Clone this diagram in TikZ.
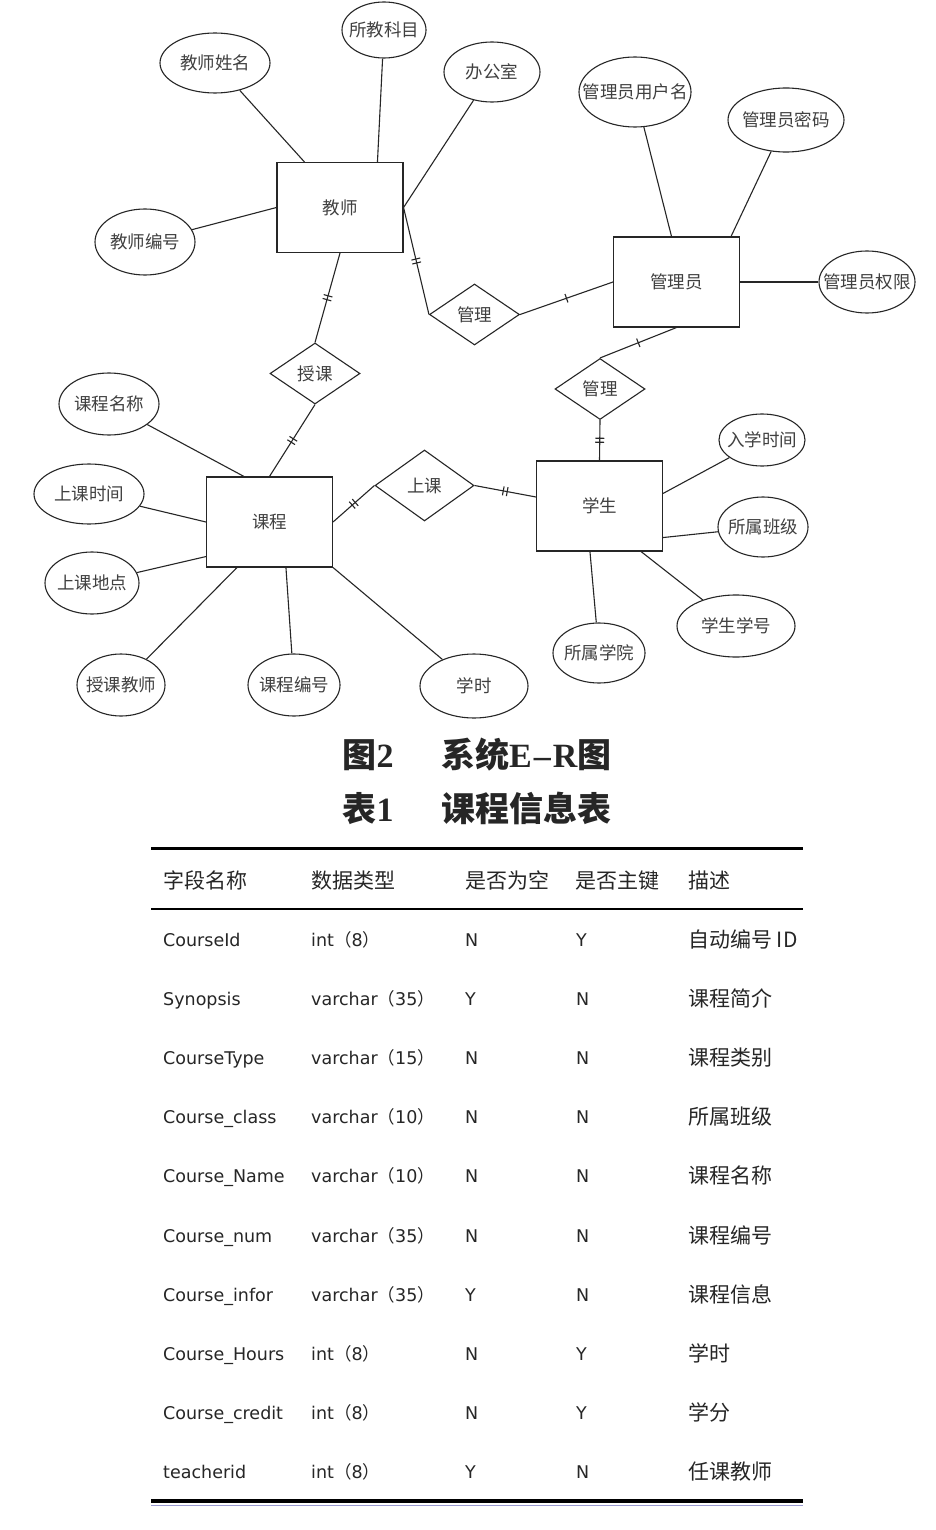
\documentclass[tikz,border=0pt]{standalone}
\usepackage{fontspec}
\setmainfont{DejaVu Sans}
\newfontfamily\cjk{Noto Sans CJK SC}
\newfontfamily\capserif{Liberation Serif}
\usetikzlibrary{shapes.geometric,decorations.markings}
\newcommand\zlp{{\cjk （}}
\newcommand\zrp{{\cjk ）}}

\begin{document}
\begin{tikzpicture}[x=1pt,y=-1pt,
  er/.style={font=\cjk\fontsize{17.5}{18}\selectfont,text=black!75},
  ent/.style={er,draw=black!85,line width=1.1pt,rectangle,minimum width=126pt,minimum height=90pt},
  rel/.style={er,draw=black!85,line width=1.1pt,diamond,inner sep=0pt,minimum width=90pt,minimum height=61pt},
  attr/.style 2 args={er,draw=black!85,line width=1.1pt,ellipse,inner xsep=-16pt,inner ysep=-5pt,minimum width=#1,minimum height=#2},
  lnk/.style={draw=black!85,line width=1.1pt},
  bar1/.style={lnk,postaction={decorate,decoration={markings,mark=at position 0.5 with {\draw[lnk] (0pt,-4.5pt)--(0pt,4.5pt);}}}},
  bar2/.style={lnk,postaction={decorate,decoration={markings,mark=at position 0.5 with {\draw[lnk] (-2pt,-4.5pt)--(-2pt,4.5pt) (2pt,-4.5pt)--(2pt,4.5pt);}}}},
  cell/.style={anchor=base west,inner sep=0pt,font=\fontsize{17.5}{20}\selectfont,text=black!85},
  ccell/.style={cell,font=\cjk\fontsize{21}{24}\selectfont},
  capt/.style={inner sep=0pt,text=black!85,font=\cjk\bfseries\fontsize{34}{36}\selectfont}]
\useasboundingbox[fill=white] (0,0) rectangle (936,1530);
\node[ent] (teacher) at (340,207.5) {教师};
\node[ent] (admin)   at (676.5,282) {管理员};
\node[ent] (course)  at (269.5,522) {课程};
\node[ent] (student) at (599.5,506) {学生};
\node[rel] (manageT) at (474.5,314.5) {管理};
\node[rel] (teach)   at (315,373.5) {授课};
\node[rel] (manageS) at (600,389) {管理};
\node[rel,minimum width=99pt,minimum height=71pt] (attend) at (424.5,485.5) {上课};
\node[attr={110pt}{60pt}] (tName)    at (215,63)  {教师姓名};
\node[attr={84pt}{56pt}]  (tSubj)    at (384,30)  {所教科目};
\node[attr={96pt}{60pt}]  (tOffice)  at (492,72)  {办公室};
\node[attr={100pt}{66pt}] (tNo)      at (145,242) {教师编号};
\node[attr={112pt}{70pt}] (aUser)    at (635,92)  {管理员用户名};
\node[attr={116pt}{64pt}] (aPwd)     at (786,120) {管理员密码};
\node[attr={96pt}{62pt}]  (aRight)   at (867,282) {管理员权限};
\node[attr={100pt}{62pt}] (cName)    at (109,404) {课程名称};
\node[attr={110pt}{60pt}] (cTime)    at (89,494)  {上课时间};
\node[attr={94pt}{62pt}]  (cPlace)   at (92,583)  {上课地点};
\node[attr={88pt}{62pt}]  (cTeacher) at (121,685) {授课教师};
\node[attr={92pt}{62pt}]  (cNo)      at (294,685) {课程编号};
\node[attr={108pt}{64pt}] (cHours)   at (474,686) {学时};
\node[attr={86pt}{52pt}]  (sEnroll)  at (762,440) {入学时间};
\node[attr={90pt}{60pt}]  (sClass)   at (763,527) {所属班级};
\node[attr={118pt}{62pt}] (sNo)      at (736,626) {学生学号};
\node[attr={92pt}{60pt}]  (sCollege) at (599,653) {所属学院};
\draw[lnk] (tName)--([xshift=28pt]teacher.north west); \draw[lnk] (tSubj)--([xshift=101pt]teacher.north west);
\draw[lnk] (tOffice)--(teacher.east); \draw[lnk] (tNo)--(teacher.west);
\draw[lnk] (aUser)--([xshift=-5pt]admin.north); \draw[lnk] (aPwd)--([xshift=-9pt]admin.north east); \draw[lnk] (aRight)--(admin.east);
\draw[lnk] (cName)--([xshift=38pt]course.north west); \draw[lnk] (cTime)--(course.west);
\draw[lnk] (cPlace)--([yshift=11pt]course.south west); \draw[lnk] (cTeacher)--([xshift=31pt]course.south west);
\draw[lnk] (cNo)--([xshift=80pt]course.south west); \draw[lnk] (cHours)--(course.south east);
\draw[lnk] (sEnroll)--([yshift=-33pt]student.north east); \draw[lnk] (sClass)--([yshift=14pt]student.south east);
\draw[lnk] (sNo)--([xshift=-22pt]student.south east); \draw[lnk] (sCollege)--([xshift=54pt]student.south west);
\draw[bar2] (teacher.east)--(manageT.west); \draw[bar1] (manageT.east)--(admin.west);
\draw[bar2] (teacher.south)--(teach.north); \draw[bar2] (teach.south)--(course.north);
\draw[bar1] (admin.south)--(manageS.north); \draw[bar2] (manageS.south)--(student.north);
\draw[bar2] (course.east)--(attend.west); \draw[bar2] (attend.east)--([yshift=9pt]student.west);
\node[capt] (cap1) at (477,755) {图{\capserif\bfseries 2}\hspace{1.4em}系统{\capserif\bfseries E\kern2pt–\kern2pt R}图};
\node[capt] (cap2) at (477,808) {表{\capserif\bfseries 1}\hspace{1.4em}课程信息表};
\draw[line width=3pt] (151,848)--(803,848);
\draw[line width=1.5pt] (151,909)--(803,909);
\draw[line width=4pt] (151,1501)--(803,1501);
\draw[line width=1.5pt,draw=black!45!blue!40] (151,1505.5)--(803,1505.5);
\node[ccell] (h1) at (163,888) {字段名称};
\node[ccell] (h2) at (311,888) {数据类型};
\node[ccell] (h3) at (465,888) {是否为空};
\node[ccell] (h4) at (575,888) {是否主键};
\node[ccell] (h5) at (688,888) {描述};
\foreach \f/\t/\n/\k/\d [count=\i] in {
  CourseId/int\zlp8\zrp/N/Y/自动编号 ID,
  Synopsis/varchar\zlp35\zrp/Y/N/课程简介,
  CourseType/varchar\zlp15\zrp/N/N/课程类别,
  Course\_class/varchar\zlp10\zrp/N/N/所属班级,
  Course\_Name/varchar\zlp10\zrp/N/N/课程名称,
  Course\_num/varchar\zlp35\zrp/N/N/课程编号,
  Course\_infor/varchar\zlp35\zrp/Y/N/课程信息,
  Course\_Hours/int\zlp8\zrp/N/Y/学时,
  Course\_credit/int\zlp8\zrp/N/Y/学分,
  teacherid/int\zlp8\zrp/Y/N/任课教师}{
  \pgfmathsetmacro\ry{940+(\i-1)*59.1+6.5}
  \node[cell] (f\i) at (163,\ry) {\f};
  \node[cell] (t\i) at (311,\ry) {\t};
  \node[cell] (n\i) at (465,\ry) {\n};
  \node[cell] (k\i) at (576,\ry) {\k};
  \node[ccell] (d\i) at (688,\ry+1) {\d};
}
\end{tikzpicture}
\end{document}
